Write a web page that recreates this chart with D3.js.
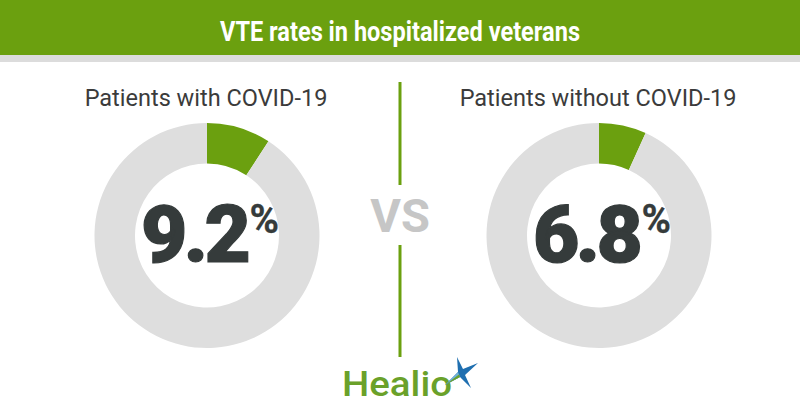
<!DOCTYPE html>
<html><head><meta charset="utf-8">
<script src="https://cdn.jsdelivr.net/npm/d3@7"></script>
<style>body{margin:0;background:#fff}svg{display:block}</style>
</head><body>
<svg id="c" width="800" height="420"></svg>
<script>
const title = "VTE rates in hospitalized veterans";
const groups = ["Patients with COVID-19", "Patients without COVID-19"];
const rates = [9.2, 6.8];
const total = 100;

const green = "#6ba00f", ring = "#dedede", dark = "#353b3b";
const svg = d3.select("#c");

svg.append("rect").attr("x",0).attr("y",0).attr("width",800).attr("height",55).attr("fill",green);
svg.append("rect").attr("x",0).attr("y",55).attr("width",800).attr("height",7).attr("fill","#dcdcdc");
svg.append("text").attr("x",400).attr("y",41).attr("text-anchor","middle")
  .attr("fill","#fff").attr("font-family","Roboto").attr("font-weight","bold").attr("font-size",28)
  .attr("textLength",360).attr("lengthAdjust","spacingAndGlyphs").text(title);

const x = d3.scalePoint().domain(groups).range([207, 599]);
const pie = d3.pie().sort(null).value(d => d.v);
const arc = d3.arc().innerRadius(72).outerRadius(112.5);

groups.forEach((g, i) => {
  const cx = x(g);
  const gg = svg.append("g").attr("transform", `translate(${cx},235.5)`);
  gg.selectAll("path").data(pie([{v: rates[i], k: "a"}, {v: total - rates[i], k: "b"}]))
    .join("path").attr("d", arc).attr("fill", d => d.data.k === "a" ? green : ring);
  svg.append("text").attr("x", cx - 1).attr("y", 106).attr("text-anchor","middle")
    .attr("font-family","Roboto").attr("font-size",23.5).attr("fill","#3b3b3b").text(g);
  const t = gg.append("text").attr("x", 3).attr("y", 26.5).attr("text-anchor","middle")
    .attr("font-family","Roboto").attr("font-weight",900).attr("font-size",80).attr("fill",dark)
    .attr("stroke",dark).attr("stroke-width",1.2).attr("letter-spacing",-3.5);
  t.append("tspan").text(rates[i].toFixed(1));
  t.append("tspan").attr("font-size",40).attr("font-weight",700).attr("stroke-width",0.3).attr("dy",-29).attr("dx",2).attr("letter-spacing",0).text("%");
});

svg.append("line").attr("x1",400).attr("x2",400).attr("y1",82).attr("y2",185).attr("stroke",green).attr("stroke-width",3);
svg.append("line").attr("x1",400).attr("x2",400).attr("y1",245).attr("y2",357).attr("stroke",green).attr("stroke-width",3);
svg.append("text").attr("x",400).attr("y",232).attr("text-anchor","middle")
  .attr("font-family","Roboto").attr("font-weight","bold").attr("font-size",47).attr("fill","#c6c6c6").text("VS");

// Healio logo
svg.append("text").attr("x",342).attr("y",396).attr("font-family","Roboto").attr("font-weight",500)
  .attr("font-size",35).attr("fill","#6aa12a").attr("textLength",110).attr("lengthAdjust","spacingAndGlyphs").text("Healio");
const star = svg.append("g").attr("transform","translate(461,373)");
star.append("path").attr("d","M-4,-16 L2,-4 L17,-10 L4,2 L10,15 L-1,4 L-16,12 L-3,-1 Z").attr("fill","#1f6fb0");
star.append("path").attr("d","M-1,4 L-16,12 L-3,-1 Z").attr("fill","#6fb0d8");
star.append("path").attr("d","M-1,4 L-16,12 L-2,1.5 Z").attr("fill","#6aa12a");
</script>
</body></html>
